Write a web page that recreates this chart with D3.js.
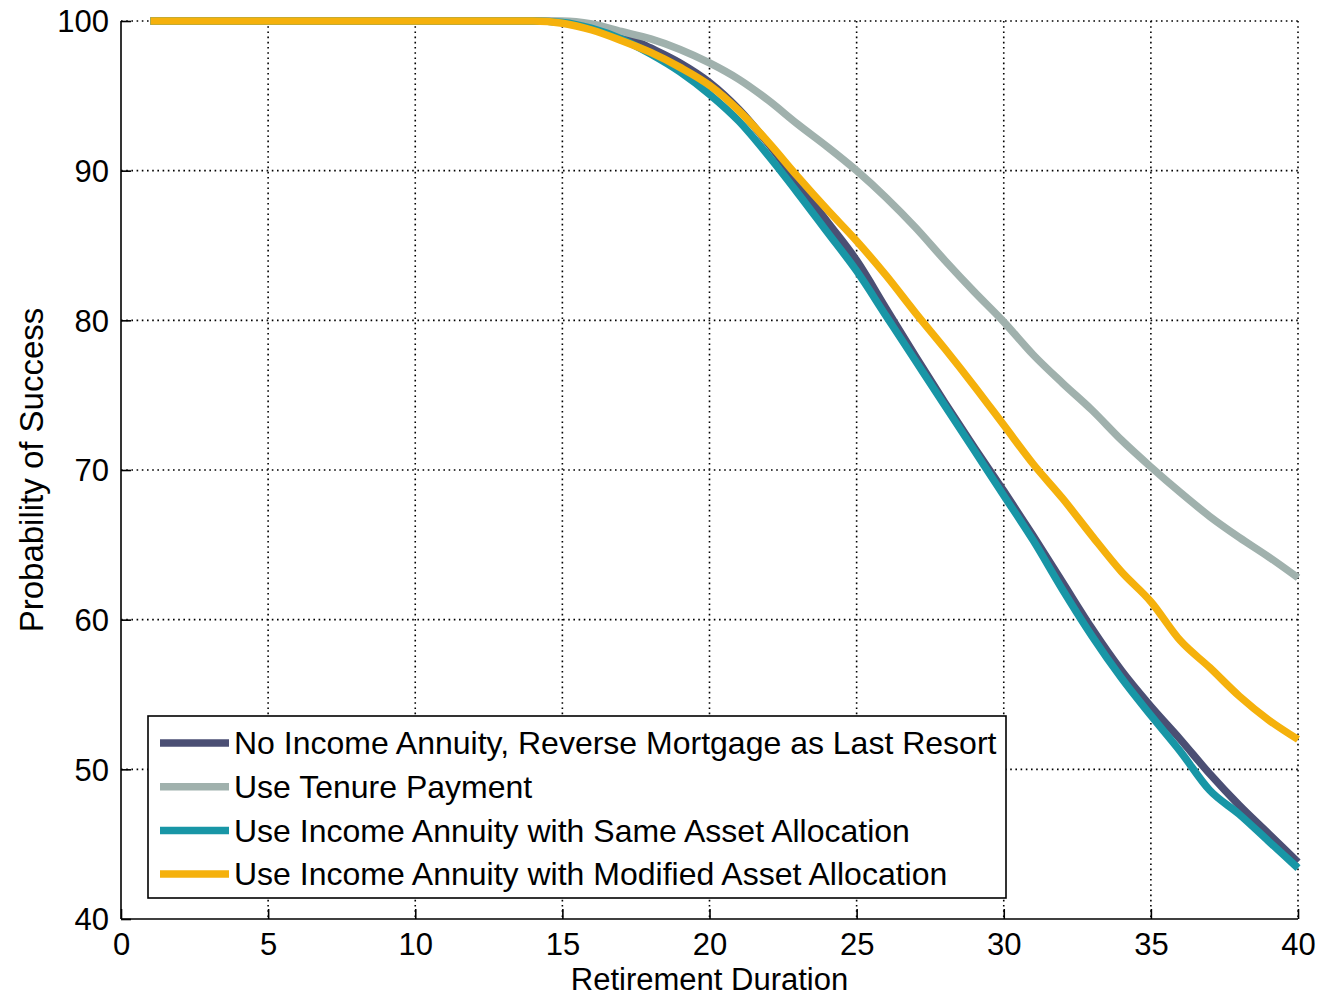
<!DOCTYPE html>
<html>
<head>
<meta charset="utf-8">
<script src="https://cdn.jsdelivr.net/npm/d3@7"></script>
<style>
  html, body { margin: 0; padding: 0; background: #fff; }
  svg text { font-family: "Liberation Sans", Arial, Helvetica, sans-serif; fill: #000; }
</style>
</head>
<body>
<svg id="chart" width="1319" height="997"></svg>
<script>
// Retirement duration (years) and probability of success (%) for each strategy
const years = d3.range(1, 41);

const noAnnuity = [
  100, 100, 100, 100, 100, 100, 100, 100, 100, 100,
  100, 100, 100, 100, 99.95, 99.7, 99.1, 98.2, 97.2, 95.9,
  94.1, 91.8, 89.2, 86.6, 84.0, 80.8, 77.6, 74.5, 71.5, 68.6,
  65.6, 62.5, 59.4, 56.6, 54.2, 52.0, 49.7, 47.6, 45.7, 43.8
];
const tenurePayment = [
  100, 100, 100, 100, 100, 100, 100, 100, 100, 100,
  100, 100, 100, 100, 100, 99.8, 99.3, 98.8, 98.1, 97.2,
  96.1, 94.7, 93.1, 91.6, 90.0, 88.2, 86.2, 84.0, 81.9, 79.9,
  77.7, 75.8, 74.0, 72.0, 70.2, 68.5, 66.9, 65.5, 64.2, 62.8
];
const annuitySame = [
  100, 100, 100, 100, 100, 100, 100, 100, 100, 100,
  100, 100, 100, 100, 99.9, 99.5, 98.8, 97.8, 96.6, 95.1,
  93.3, 91.0, 88.5, 85.9, 83.3, 80.3, 77.3, 74.3, 71.3, 68.3,
  65.3, 62.0, 58.9, 56.1, 53.6, 51.2, 48.6, 47.0, 45.2, 43.4
];
const annuityModified = [
  100, 100, 100, 100, 100, 100, 100, 100, 100, 100,
  100, 100, 100, 100, 99.85, 99.4, 98.7, 97.9, 96.9, 95.7,
  94.0, 91.9, 89.6, 87.4, 85.3, 83.0, 80.5, 78.1, 75.6, 73.0,
  70.4, 68.1, 65.6, 63.2, 61.2, 58.6, 56.8, 54.9, 53.3, 52.0
];

const seriesNames = [
  "No Income Annuity, Reverse Mortgage as Last Resort",
  "Use Tenure Payment",
  "Use Income Annuity with Same Asset Allocation",
  "Use Income Annuity with Modified Asset Allocation"
];
const seriesColors = ["#4b4f74", "#a0b1ad", "#1896a6", "#f5b10c"];
const seriesValues = [noAnnuity, tenurePayment, annuitySame, annuityModified];

const xTicks = [0, 5, 10, 15, 20, 25, 30, 35, 40];
const yTicks = [40, 50, 60, 70, 80, 90, 100];

const xLabel = "Retirement Duration";
const yLabel = "Probability of Success";

// Plot geometry
const plotLeft = 121, plotRight = 1298, plotTop = 21, plotBottom = 919;
const svg = d3.select("#chart");

const x = d3.scaleLinear().domain([0, 40]).range([plotLeft, plotRight]);
const y = d3.scaleLinear().domain([40, 100]).range([plotBottom, plotTop]);

const fontSize = 31;

// Dotted grid
const grid = svg.append("g");
grid.selectAll("line.v").data(xTicks.filter(d => d > 0)).join("line")
  .attr("class", "v")
  .attr("x1", d => x(d)).attr("x2", d => x(d))
  .attr("y1", plotTop).attr("y2", plotBottom)
  .attr("stroke", "#000").attr("stroke-width", 1.6)
  .attr("stroke-dasharray", "1.6,3.6");
grid.selectAll("line.h").data(yTicks.filter(d => d > 40)).join("line")
  .attr("class", "h")
  .attr("x1", plotLeft).attr("x2", plotRight)
  .attr("y1", d => y(d)).attr("y2", d => y(d))
  .attr("stroke", "#000").attr("stroke-width", 1.6)
  .attr("stroke-dasharray", "1.6,3.6");

// Axes with inward ticks
const xAxis = d3.axisBottom(x).tickValues(xTicks).tickSize(-10).tickPadding(0).tickFormat(d3.format("d"));
const yAxis = d3.axisLeft(y).tickValues(yTicks).tickSize(-10).tickPadding(0).tickFormat(d3.format("d"));

const gx = svg.append("g").attr("transform", `translate(0,${plotBottom})`).call(xAxis);
const gy = svg.append("g").attr("transform", `translate(${plotLeft},0)`).call(yAxis);

[gx, gy].forEach(g => {
  g.select(".domain").attr("stroke", "#000").attr("stroke-width", 1.6);
  g.selectAll(".tick line").attr("stroke", "#000").attr("stroke-width", 1.6);
  g.selectAll(".tick text").attr("font-size", fontSize)
    .attr("font-family", "Liberation Sans, Arial, sans-serif").attr("fill", "#000");
});
gx.select(".domain").attr("d", `M${plotLeft},0H${plotRight}`);
gy.select(".domain").attr("d", `M0,${plotBottom}V${plotTop}`);
gx.selectAll(".tick text").attr("y", 36).attr("dy", 0);
gy.selectAll(".tick text").attr("x", -12).attr("dy", "0.35em");

// Axis titles
svg.append("text")
  .attr("x", (plotLeft + plotRight) / 2).attr("y", 990)
  .attr("text-anchor", "middle").attr("font-size", fontSize)
  .text(xLabel);
svg.append("text")
  .attr("transform", `translate(43,${(plotTop + plotBottom) / 2}) rotate(-90)`)
  .attr("text-anchor", "middle").attr("font-size", 33)
  .text(yLabel);

// Series lines
const line = d3.line().x((d, i) => x(years[i])).y(d => y(d)).curve(d3.curveMonotoneX);
svg.append("g").selectAll("path").data(seriesValues).join("path")
  .attr("d", d => line(d))
  .attr("fill", "none")
  .attr("stroke", (d, i) => seriesColors[i])
  .attr("stroke-width", 7.5)
  .attr("stroke-linejoin", "round");

// Legend
const legend = svg.append("g");
legend.append("rect")
  .attr("x", 148).attr("y", 716).attr("width", 858).attr("height", 182)
  .attr("fill", "#fff").attr("stroke", "#000").attr("stroke-width", 1.6);
const rowY = i => 743 + i * 43.7;
legend.selectAll("line").data(seriesNames).join("line")
  .attr("x1", 160).attr("x2", 229)
  .attr("y1", (d, i) => rowY(i)).attr("y2", (d, i) => rowY(i))
  .attr("stroke", (d, i) => seriesColors[i]).attr("stroke-width", 7.5);
legend.selectAll("text").data(seriesNames).join("text")
  .attr("x", 234).attr("y", (d, i) => rowY(i)).attr("dy", "0.35em")
  .attr("font-size", 32)
  .text(d => d);
</script>
</body>
</html>
